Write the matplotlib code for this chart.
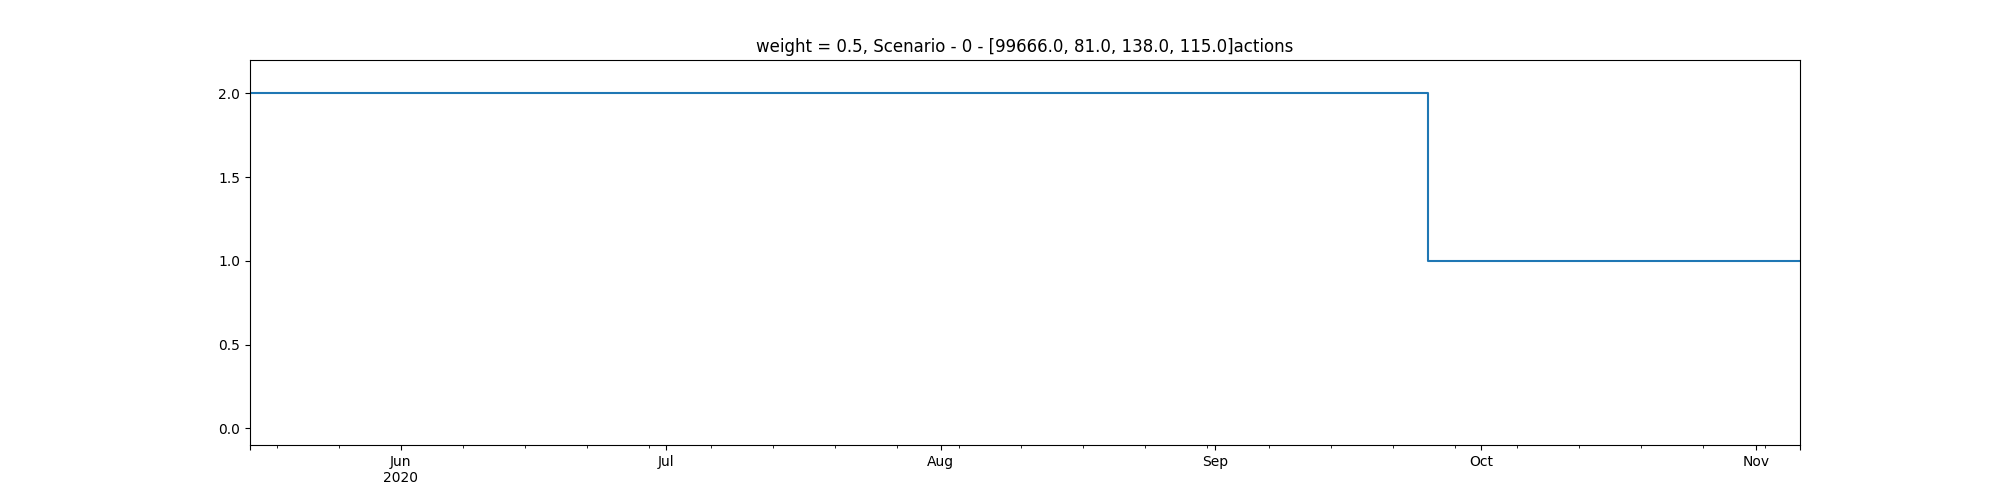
import matplotlib
matplotlib.use("Agg")
import matplotlib.pyplot as plt
import pandas as pd

# Data: piecewise-constant action level over daily dates
start_date = "2020-05-15"
change_date = "2020-09-25"
end_date = "2020-11-06"
level_before = 2.0
level_after = 1.0

title_text = "weight = 0.5, Scenario - 0 - [99666.0, 81.0, 138.0, 115.0]actions"

dates = pd.date_range(start_date, end_date, freq="D")
values = [level_before if d < pd.Timestamp(change_date) else level_after for d in dates]
series = pd.Series(values, index=dates)

fig, ax = plt.subplots(figsize=(20, 5), dpi=100)
series.plot(ax=ax, drawstyle="steps-post", color="#1f77b4")
ax.set_ylim(-0.1, 2.2)
ax.set_title(title_text)
fig.savefig("out.png")
